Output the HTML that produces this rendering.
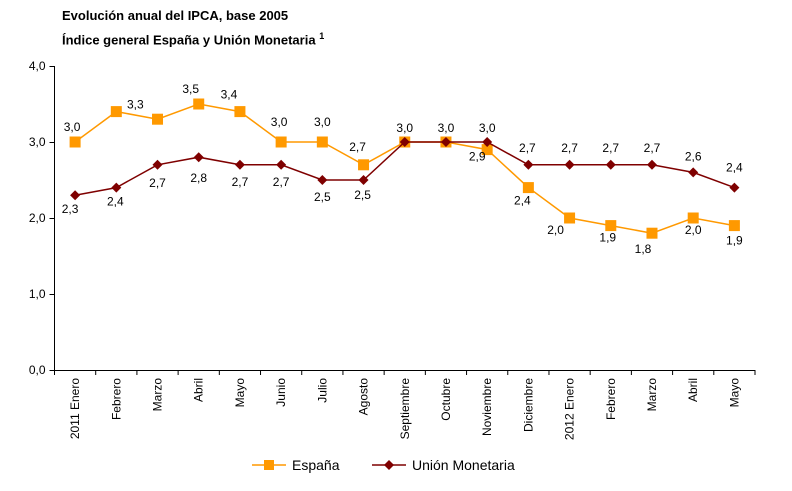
<!DOCTYPE html>
<html><head><meta charset="utf-8"><style>
body{margin:0;background:#fff;width:792px;height:491px;overflow:hidden;font-family:"Liberation Sans",Arial,sans-serif}
.t{position:absolute;left:62px;font-weight:bold;font-size:13px;color:#000}
</style></head><body>
<div class="t" style="top:8px">Evolución anual del IPCA, base 2005</div>
<div class="t" style="top:31px">Índice general España y Unión Monetaria <sup style="font-size:9px">1</sup></div>
<svg id="c" width="792" height="491" style="position:absolute;left:0;top:0"></svg>
<script>
const categories=["2011 Enero","Febrero","Marzo","Abril","Mayo","Junio","Julio","Agosto","Septiembre","Octubre","Noviembre","Diciembre","2012 Enero","Febrero","Marzo","Abril","Mayo"];
const espana=[3.0,3.4,3.3,3.5,3.4,3.0,3.0,2.7,3.0,3.0,2.9,2.4,2.0,1.9,1.8,2.0,1.9];
const espanaLabels=["3,0","3,3","","3,5","3,4","3,0","3,0","2,7","","","2,9","2,4","2,0","1,9","1,8","2,0","1,9"];
const um=[2.3,2.4,2.7,2.8,2.7,2.7,2.5,2.5,3.0,3.0,3.0,2.7,2.7,2.7,2.7,2.6,2.4];
const umLabels=["2,3","2,4","2,7","2,8","2,7","2,7","2,5","2,5","3,0","3,0","3,0","2,7","2,7","2,7","2,7","2,6","2,4"];
const yTicks=[0,1,2,3,4];
const yTickLabels=["0,0","1,0","2,0","3,0","4,0"];
// label offsets (layout only)
const esOff=[[-3,-11],[19,-3],[0,0],[-8,-11],[-11,-13],[-2,-16],[0,-16],[-6,-14],[0,0],[0,0],[-10,11],[-6,17],[-14,16],[-3,16],[-9,20],[0,16],[0,19]];
const umOff=[[-5,18],[-1,18],[0,22],[0,25],[0,21],[0,21],[0,21],[-1,19],[0,-10],[0,-10],[0,-10],[-1,-13],[0,-13],[0,-13],[0,-13],[0,-12],[0,-16]];
const svg=document.getElementById('c');const NS='http://www.w3.org/2000/svg';
const L=54.5,W=700.5,y0=370,y4=66;
const step=W/categories.length;
const X=i=>L+step*(i+0.5);
const Y=v=>y0-(v/4)*(y0-y4);
function el(t,a,p){const e=document.createElementNS(NS,t);for(const k in a)e.setAttribute(k,a[k]);(p||svg).appendChild(e);return e;}
let e;
e=el('line',{x1:L,y1:y4,x2:L,y2:y0,stroke:'#000','stroke-width':1});


e=el('line',{x1:L,y1:y0+0.5,x2:L+W,y2:y0+0.5,stroke:'#000','stroke-width':1});


yTicks.forEach((v,i)=>{
 el('line',{x1:L-5,x2:L,y1:Y(v)+0.5,y2:Y(v)+0.5,stroke:'#000'});
 const t=el('text',{x:L-9,y:Y(v)+4,'text-anchor':'end','font-size':12});t.textContent=yTickLabels[i];
 
 
});
for(let i=0;i<=categories.length;i++){const x=L+step*i;el('line',{x1:x,x2:x,y1:y0,y2:y0+5,stroke:'#000'});}
categories.forEach((c,i)=>{
 const t=el('text',{transform:`translate(${X(i)+4},${y0+8}) rotate(-90)`,'text-anchor':'end','font-size':12});t.textContent=c;
 
 
});
function series(vals,color,name,marker){
 e=el('polyline',{points:vals.map((v,i)=>X(i)+','+Y(v)).join(' '),fill:'none',stroke:color,'stroke-width':1.5});
 
 
 vals.forEach((v,i)=>{
  let m;
  if(marker==='sq')m=el('rect',{x:X(i)-5.5,y:Y(v)-5.5,width:11,height:11,fill:color});
  else m=el('polygon',{points:`${X(i)},${Y(v)-5} ${X(i)+5},${Y(v)} ${X(i)},${Y(v)+5} ${X(i)-5},${Y(v)}`,fill:color});
  
  
 });
}
function labels(vals,labs,off,name){
 vals.forEach((v,i)=>{if(!labs[i])return;
  const t=el('text',{x:X(i)+off[i][0],y:Y(v)+off[i][1],'text-anchor':'middle','font-size':12});t.textContent=labs[i];
  
  
 });
}
series(espana,'#FF9900','espana','sq');
series(um,'#7F0000','union-monetaria','dia');
labels(espana,espanaLabels,esOff,'espana');
labels(um,umLabels,umOff,'union-monetaria');
const lg=el('g',{});


el('line',{x1:252,x2:286,y1:465,y2:465,stroke:'#FF9900','stroke-width':1.5},lg);
el('rect',{x:264,y:460,width:10,height:10,fill:'#FF9900'},lg);
let t=el('text',{x:292,y:470,'font-size':14},lg);t.textContent='España';


el('line',{x1:372,x2:406,y1:465,y2:465,stroke:'#7F0000','stroke-width':1.5},lg);
el('polygon',{points:'389,460 394,465 389,470 384,465',fill:'#7F0000'},lg);
t=el('text',{x:412,y:470,'font-size':14},lg);t.textContent='Unión Monetaria';


</script>
</body></html>
